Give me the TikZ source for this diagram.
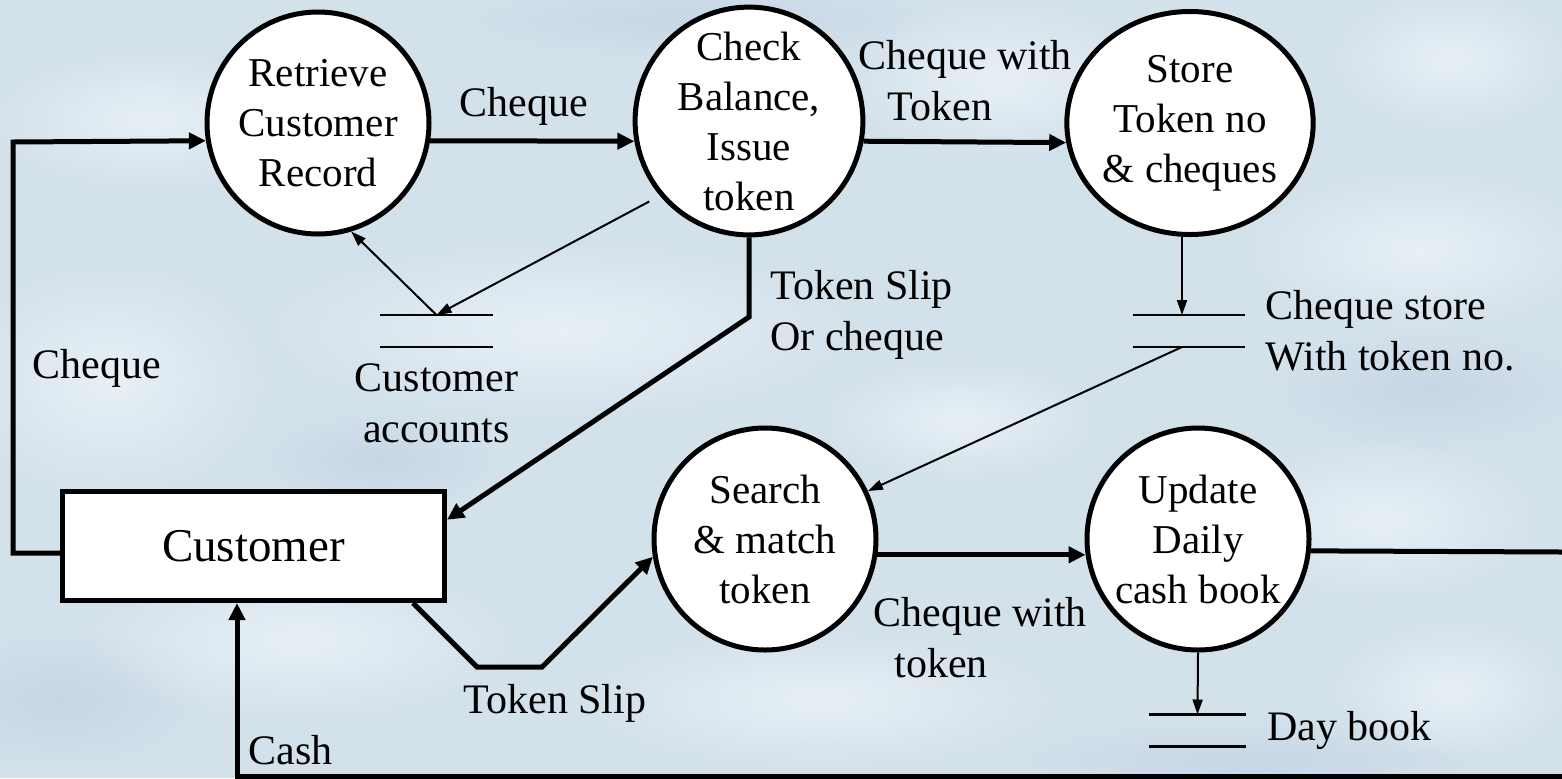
\documentclass[tikz,border=0pt]{standalone}
\usepackage{fontspec}
\setmainfont{Liberation Serif}
\usetikzlibrary{arrows.meta,shapes.geometric,calc,fadings}

\definecolor{sky}{RGB}{211,225,235}
\definecolor{haze}{RGB}{234,242,248}
\definecolor{deepsky}{RGB}{196,212,228}
\tikzfading[name=fuzzy, inner color=transparent!0, outer color=transparent!100]

\tikzset{
  proc/.style={circle, draw, line width=2.5pt, fill=white, minimum size=111pt,
    inner sep=0pt, align=center, font=\fontsize{20.5}{25}\selectfont},
  entity/.style={rectangle, draw, line width=2.5pt, fill=white,
    minimum width=191pt, minimum height=54.5pt, font=\fontsize{23.5}{28}\selectfont},
  datastore/.style={rectangle, inner sep=0pt, outer sep=0pt, minimum height=16pt},
  storeline/.style={line width=1.1pt},
  flow/.style={line width=2.5pt, -{Triangle[length=8.5pt,width=8pt]}},
  plainflow/.style={line width=2.5pt},
  dataflow/.style={line width=1pt, -{Triangle[length=7.5pt,width=5pt]}},
  lbl/.style={font=\fontsize{21}{25.5}\selectfont, inner sep=0pt, align=left}
}

\begin{document}
\begin{tikzpicture}[x=0.5pt,y=-0.5pt]
\useasboundingbox (0,0) rectangle (1562,778);
\fill[sky] (0,0) rectangle (1562,778);

% darker and lighter patches of the cloudy sky backdrop
\foreach \cx/\cy/\rx/\ry in {1430/390/80pt/30pt, 700/20/120pt/20pt, 60/700/70pt/35pt,
    1250/760/120pt/20pt, 380/460/60pt/25pt}
  \fill[deepsky, path fading=fuzzy, opacity=0.8] (\cx,\cy) ellipse [x radius=\rx, y radius=\ry];
\foreach \cx/\cy/\rx/\ry in {560/330/150pt/45pt, 110/380/80pt/60pt, 1420/250/90pt/40pt,
    1000/80/80pt/40pt, 300/640/110pt/40pt, 820/700/120pt/35pt, 1380/520/80pt/40pt,
    150/120/80pt/35pt, 960/420/70pt/30pt, 1450/60/60pt/35pt, 1450/690/60pt/35pt}
  \fill[haze, path fading=fuzzy, opacity=0.9] (\cx,\cy) ellipse [x radius=\rx, y radius=\ry];

% processes
\node[proc] (retr) at (318,123) {Retrieve\\Customer\\Record};
\node[proc] (check) at (749,121) {Check\\Balance,\\Issue\\token};
\node[proc, ellipse, minimum width=119pt, minimum height=111.5pt] (store) at (1190,123)
  {Store\\Token no\\\& cheques};
\node[proc] (search) at (765,539) {Search\\\& match\\token};
\node[proc] (update) at (1198,539) {Update\\Daily\\cash book};

% external entity
\node[entity] (cust) at (253.5,546) {Customer};

% data stores
\node[datastore, minimum width=56.5pt] (ca) at (436.5,331) {};
\node[datastore, minimum width=56pt] (cs) at (1189,331) {};
\node[datastore, minimum width=48.5pt] (db) at (1197.5,730.5) {};
\foreach \s in {ca,cs,db}
  \draw[storeline] (\s.north west) -- (\s.north east) (\s.south west) -- (\s.south east);

\node[lbl, align=center] (caT) at (436.5,403) {Customer\\accounts};
\node[lbl, anchor=west] (csT) at (1265,331) {Cheque store\\With token no.};
\node[lbl, anchor=west] (dbT) at (1267,730) {Day book};

% flow labels
\node[lbl] (l1) at (524,106) {Cheque};
\node[lbl, anchor=west] (l2) at (858,81) {Cheque with\\\hspace*{0.7em}Token};
\node[lbl, anchor=west] (l3) at (770,315) {Token Slip\\Or cheque};
\node[lbl] (l4) at (97,368) {Cheque};
\node[lbl] (l5) at (555,703) {Token Slip};
\node[lbl, anchor=west] (l6) at (873,638) {Cheque with\\\hspace*{0.5em}token};
\node[lbl, anchor=west] (l7) at (248,750) {Cash};

% main flows
\coordinate (exitR) at (1562,552);
\coordinate (exitB) at (1562,776);
\draw[flow] (cust.west |- 0,553) -- (13,553) -- (13,142) -- (retr.189.7);
\draw[flow] (retr.-9.7) -- (check.190.66);
\draw[flow] (check.-10.66) -- (store.189.1);
\draw[flow] (check.south) -- (749,317) -- ($(cust.north east)!0.27!(cust.south east)$);
\draw[flow] ($(cust.south east)+(-34,0)$) -- (477,667) -- (542,667) -- (search.189.1);
\draw[flow] (search.-8.1) -- (update.188.1);
\draw[plainflow] (update.-6.6) -- (exitR);
\draw[flow] (exitB) -- (237,776) -- (237,776 |- cust.south);

% data store access
\draw[dataflow] (ca.north) -- (retr.-73);
\draw[dataflow, shorten <=6pt] (check.220.5) -- (ca.north);
\coordinate (csIn) at ($(cs.north)+(-7,0)$);
\coordinate (csOut) at ($(cs.south)+(-7,0)$);
\draw[dataflow] (store.south -| csIn) -- (csIn);
\draw[dataflow] (csOut) -- (search.25.7);
\draw[dataflow] (update.south) -- (db.north);
\end{tikzpicture}
\end{document}
